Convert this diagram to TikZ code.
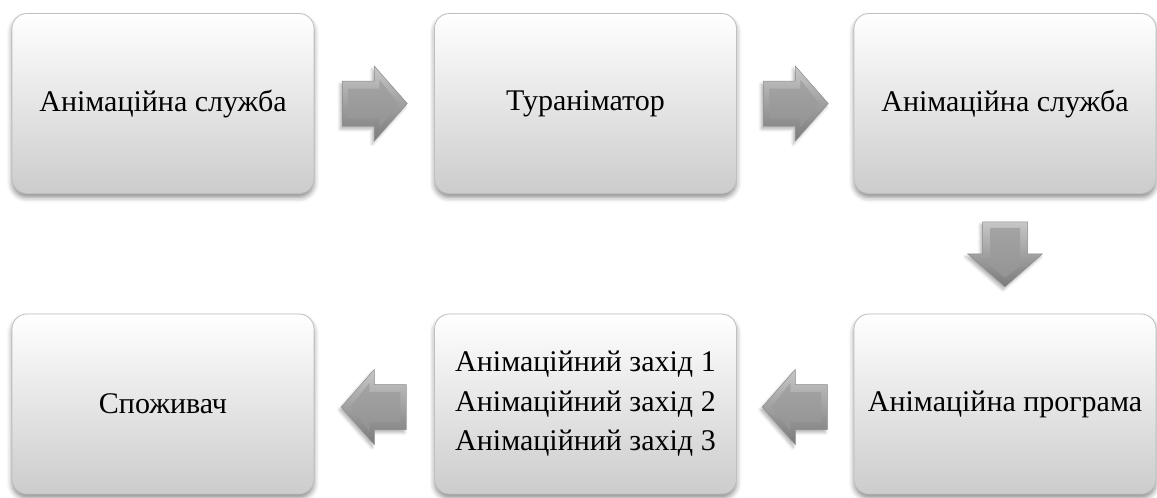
\documentclass[tikz,border=0pt]{standalone}
\usepackage{fontspec}
\setmainfont{Liberation Serif}
\usetikzlibrary{calc,shadows.blur}

\tikzset{
  x=1pt, y=-1pt,
  stage/.style={rectangle, rounded corners=15pt,
    minimum width=302pt, minimum height=180pt, inner sep=0pt,
    draw=black!25, line width=0.8pt,
    top color=white, middle color=white, bottom color=black!20,
    blur shadow={shadow xshift=0pt, shadow yshift=-4pt,
      shadow blur radius=5pt, shadow opacity=45},
    font=\fontsize{30}{39.5}\selectfont, align=center},
  arrowbody/.style={top color=black!22, bottom color=black!52,
    draw=black!45, line width=0.5pt,
    blur shadow={shadow xshift=-2pt, shadow yshift=-3pt,
      shadow blur radius=3pt, shadow opacity=30}},
  arrowface/.style={top color=black!36, bottom color=black!42},
  flowarr/.pic={
    \path[arrowbody] (-32,-22.5) -- (0,-22.5) -- (0,-37.5) -- (33,0)
      -- (0,37.5) -- (0,22.5) -- (-32,22.5) -- cycle;
    \path[arrowface] (-26,-15) -- (5,-15) -- (5,-24) -- (24,0)
      -- (5,24) -- (5,15) -- (-26,15) -- cycle;
  },
}

\begin{document}
\begin{tikzpicture}
  \useasboundingbox (0,0) rectangle (1157,498);

  % upper row, left to right
  \node[stage] (s1) at (163,103.5) {Анімаційна служба};
  \node[stage] (s2) at (585.5,103.5) {Тураніматор};
  \node[stage] (s3) at (1005,103.5) {Анімаційна служба};

  % lower row, right to left
  \node[stage] (s4) at (1005,404) {Анімаційна програма};
  \node[stage] (s5) at (585.5,404) {Анімаційний захід 1\\Анімаційний захід 2\\Анімаційний захід 3};
  \node[stage] (s6) at (163,404) {Споживач};

  % block arrows between the stages
  \coordinate (a1) at ($(s1.east)!0.5!(s2.west)$);
  \coordinate (a2) at ($(s2.east)!0.5!(s3.west)$);
  \coordinate (a3) at ($(s3.south)!0.5!(s4.north)$);
  \coordinate (a4) at ($(s4.west)!0.5!(s5.east)+(0,3)$);
  \coordinate (a5) at ($(s5.west)!0.5!(s6.east)+(0,3)$);

  \pic at (a1) {flowarr};
  \pic at (a2) {flowarr};
  \pic[rotate=-90] at (a3) {flowarr};
  \pic[rotate=180] at (a4) {flowarr};
  \pic[rotate=180] at (a5) {flowarr};
\end{tikzpicture}
\end{document}
